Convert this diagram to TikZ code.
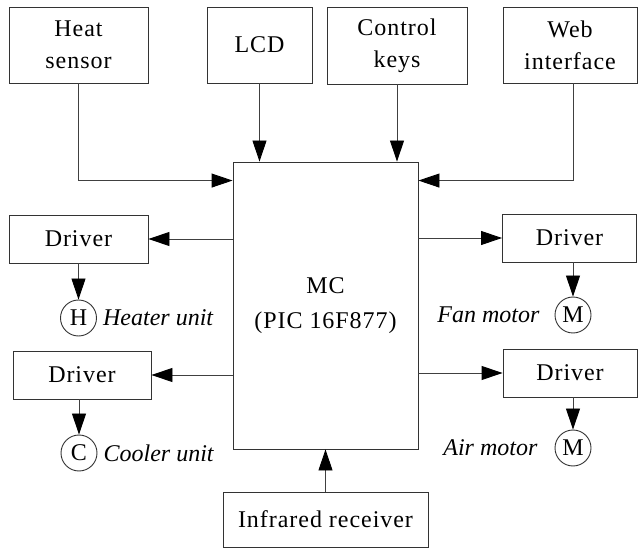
\documentclass[tikz,border=0pt]{standalone}
\usepackage{fontspec}
\setmainfont[LetterSpace=4]{Liberation Serif}
\newfontfamily\lblfont{Liberation Serif}
\usetikzlibrary{positioning}
\usetikzlibrary{arrows.meta}

\tikzset{
    blk/.style={draw=black!80, line width=0.9pt, inner sep=0pt, align=center},
    actr/.style={draw=black!80, line width=0.9pt, circle, minimum size=36pt, inner sep=0pt},
    lbl/.style={inner sep=0pt, font=\fontsize{24}{32}\lblfont\itshape},
    wire/.style={draw=black!75, line width=0.9pt, -{Triangle[length=21pt,width=14pt,black]}}
}

\begin{document}
\begin{tikzpicture}[x=1pt, y=-1pt, font=\fontsize{24}{32}\selectfont]
    \useasboundingbox (0,0) rectangle (638,548);

    % inputs
    \node [blk, minimum width=139pt, minimum height=76pt] (heat) at (78.5,45) {Heat\\sensor};
    \node [blk, minimum width=105pt, minimum height=76pt] (lcd) at (259.5,45) {LCD};
    \node [blk, minimum width=140pt, minimum height=77pt] (keys) at (397,45.5) {Control\\keys};
    \node [blk, minimum width=134pt, minimum height=76pt] (web) at (570,45) {Web\\interface};

    \node [blk, minimum width=185pt, minimum height=287pt] (mc) at (325.5,305.5) {MC\\[3pt](PIC 16F877)};
    \node [blk, minimum width=205pt, minimum height=55pt] (ir) at (325.5,519.5) {Infrared receiver};

    % drivers
    \node [blk, minimum width=139pt, minimum height=48pt] (drvheat) at (78.5,239) {Driver};
    \node [blk, minimum width=138pt, minimum height=48pt] (drvcool) at (82,375) {Driver};
    \node [blk, minimum width=134pt, minimum height=48pt] (drvfan) at (569.5,238) {Driver};
    \node [blk, minimum width=134pt, minimum height=48pt] (drvair) at (570,373) {Driver};

    % actuators
    \node [actr] (hunit) at (78.5,318) {H};
    \node [actr] (cunit) at (79,453) {C};
    \node [actr] (mfan) at (573,315) {M};
    \node [actr] (mair) at (573,448) {M};

    \node [lbl, right=6pt of hunit] (hlbl) {Heater unit};
    \node [lbl, right=6pt of cunit] (clbl) {Cooler unit};
    \node [lbl, left=15pt of mfan] (flbl) {Fan motor};
    \node [lbl, left=17pt of mair] (albl) {Air motor};

    \coordinate (inleft) at ([yshift=-19pt]mc.north west);
    \coordinate (inright) at ([yshift=-19pt]mc.north east);

    \draw [wire] (heat.south) |- (inleft);
    \draw [wire] (lcd.south) -- (lcd.south |- mc.north);
    \draw [wire] (keys.south) -- (keys.south |- mc.north);
    \draw [wire] ([xshift=3pt]web.south) |- (inright);

    \draw [wire] (mc.west |- drvheat) -- (drvheat.east);
    \draw [wire] (mc.west |- drvcool) -- (drvcool.east);
    \draw [wire] (mc.east |- drvfan) -- (drvfan.west);
    \draw [wire] (mc.east |- drvair) -- (drvair.west);

    \draw [wire] (drvheat.south) -- (hunit.north);
    \draw [wire] (drvcool.south -| cunit) -- (cunit.north);
    \draw [wire] (drvfan.south -| mfan) -- (mfan.north);
    \draw [wire] (drvair.south -| mair) -- (mair.north);

    \draw [wire] (ir.north) -- (mc.south);
\end{tikzpicture}
\end{document}
